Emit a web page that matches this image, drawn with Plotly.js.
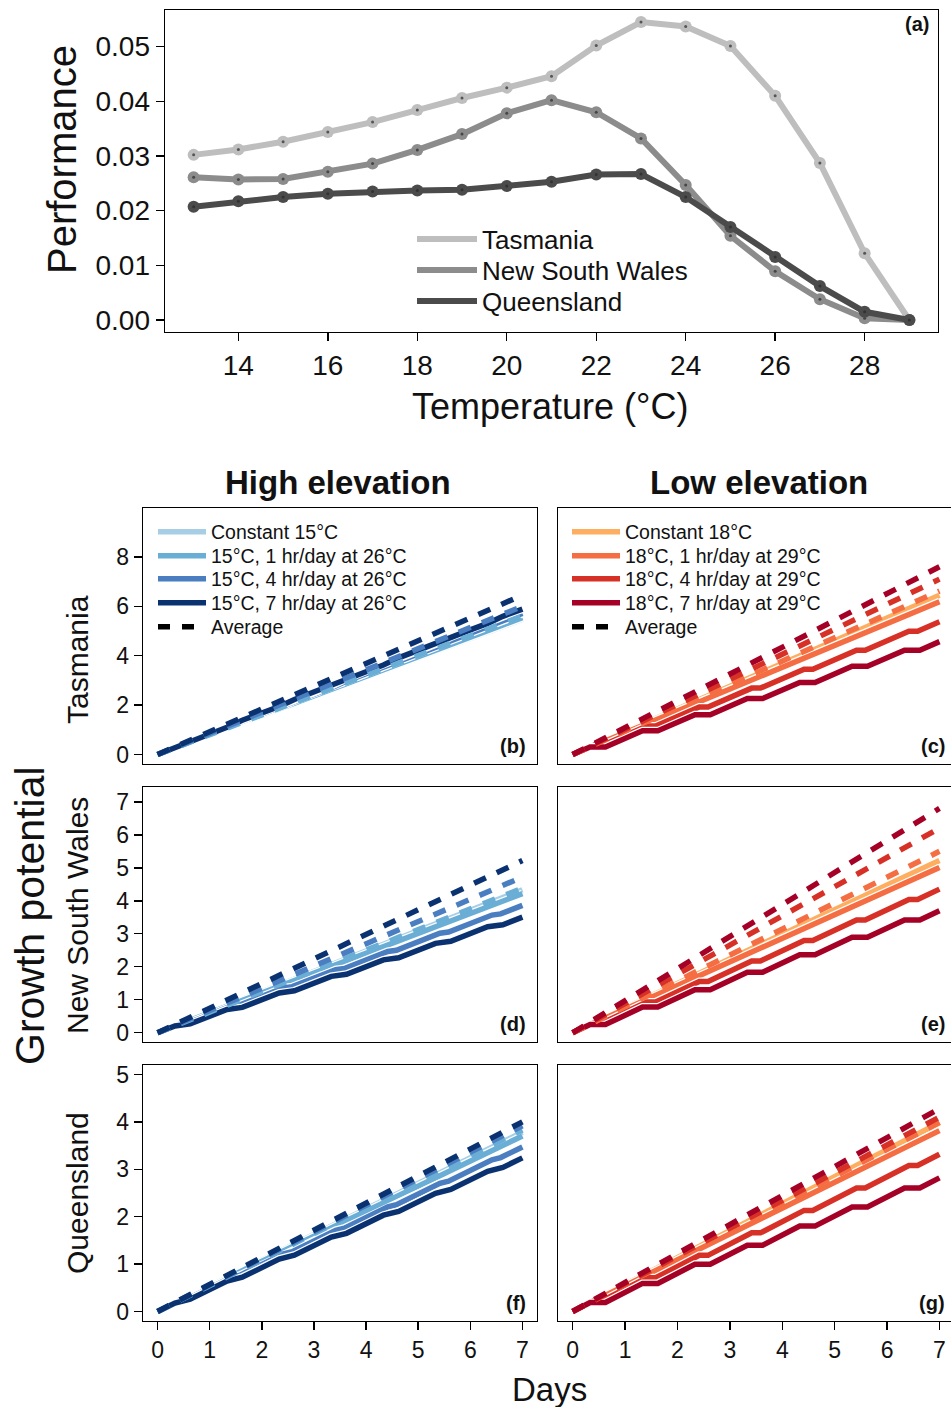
<!DOCTYPE html>
<html>
<head>
<meta charset="utf-8">
<script src="https://cdn.plot.ly/plotly-3.0.1.min.js"></script>
<style>html,body{margin:0;padding:0;background:#fff;}#chart{width:951px;height:1407px;}</style>
</head>
<body>
<div id="chart"></div>
<script>
// ---------- Panel (a): thermal performance curves ----------
const tempC = [13,14,15,16,17,18,19,20,21,22,23,24,25,26,27,28,29];
const perfTas = [0.0302,0.0312,0.0326,0.0344,0.0362,0.0384,0.0406,0.0425,0.0446,0.0502,0.0545,0.0537,0.0501,0.0410,0.0287,0.0122,0.0000];
const perfNSW = [0.0261,0.0257,0.0258,0.0271,0.0286,0.0311,0.0340,0.0378,0.0402,0.0380,0.0332,0.0247,0.0154,0.0089,0.0038,0.0003,0.0000];
const perfQld = [0.0207,0.0217,0.0225,0.0231,0.0235,0.0237,0.0238,0.0245,0.0253,0.0266,0.0267,0.0225,0.0170,0.0115,0.0062,0.0015,0.0000];
const regionNames = ['Tasmania','New South Wales','Queensland'];
const tempTicks = [14,16,18,20,22,24,26,28];
const perfTicks = [0,0.01,0.02,0.03,0.04,0.05];

// ---------- Panels (b)-(g): growth potential over days ----------
const dayDaily = [0,1,2,3,4,5,6,7];
const day4 = [0,0.417,0.583,1,1.417,1.583,2,2.417,2.583,3,3.417,3.583,4,4.417,4.583,5,5.417,5.583,6,6.417,6.583,7];
const day7 = [0,0.333,0.625,1,1.333,1.625,2,2.333,2.625,3,3.333,3.625,4,4.333,4.625,5,5.333,5.625,6,6.333,6.625,7];
const dayEnds = [0,7];
const dayTicks = [0,1,2,3,4,5,6,7];
const highNames = ['Constant 15°C','15°C, 1 hr/day at 26°C','15°C, 4 hr/day at 26°C','15°C, 7 hr/day at 26°C'];
const lowNames = ['Constant 18°C','18°C, 1 hr/day at 29°C','18°C, 4 hr/day at 29°C','18°C, 7 hr/day at 29°C'];
const averageName = 'Average';
const rowNames = ['Tasmania','New South Wales','Queensland'];
const colNames = ['High elevation','Low elevation'];

// (b) Tasmania, high elevation
const tasHighConst = [0,0.782,1.565,2.347,3.130,3.912,4.694,5.477];
const tasHigh1 = [0,0.791,1.582,2.372,3.163,3.954,4.745,5.536];
const tasHigh4 = [0,0.326,0.490,0.816,1.142,1.306,1.632,1.958,2.122,2.448,2.774,2.938,3.264,3.590,3.754,4.080,4.406,4.570,4.896,5.222,5.386,5.712];
const tasHigh7 = [0,0.261,0.548,0.841,1.102,1.389,1.682,1.943,2.230,2.524,2.785,3.071,3.365,3.626,3.913,4.206,4.467,4.754,5.047,5.308,5.595,5.888];
const tasHighAvg1 = [0,5.61];
const tasHighAvg4 = [0,6.00];
const tasHighAvg7 = [0,6.45];
// (c) Tasmania, low elevation
const tasLowConst = [0,0.922,1.843,2.765,3.686,4.608,5.530,6.451];
const tasLow1 = [0,0.883,1.766,2.650,3.533,4.416,5.299,6.182];
const tasLow4 = [0,0.384,0.384,0.768,1.152,1.152,1.536,1.920,1.920,2.304,2.688,2.688,3.072,3.456,3.456,3.840,4.224,4.224,4.608,4.992,4.992,5.376];
const tasLow7 = [0,0.307,0.307,0.653,0.960,0.960,1.306,1.613,1.613,1.958,2.266,2.266,2.611,2.918,2.918,3.264,3.571,3.571,3.917,4.224,4.224,4.570];
const tasLowAvg1 = [0,6.62];
const tasLowAvg4 = [0,7.10];
const tasLowAvg7 = [0,7.60];
// (d) New South Wales, high elevation
const nswHighConst = [0,0.619,1.238,1.858,2.477,3.096,3.715,4.334];
const nswHigh1 = [0,0.602,1.205,1.807,2.409,3.012,3.614,4.216];
const nswHigh4 = [0,0.258,0.294,0.552,0.810,0.845,1.103,1.361,1.397,1.655,1.913,1.948,2.206,2.464,2.500,2.758,3.016,3.052,3.310,3.568,3.603,3.861];
const nswHigh7 = [0,0.206,0.269,0.501,0.707,0.770,1.002,1.208,1.271,1.503,1.709,1.772,2.004,2.210,2.272,2.505,2.711,2.773,3.005,3.212,3.274,3.506];
const nswHighAvg1 = [0,4.38];
const nswHighAvg4 = [0,4.72];
const nswHighAvg7 = [0,5.22];
// (e) New South Wales, low elevation
const nswLowConst = [0,0.746,1.493,2.239,2.986,3.732,4.478,5.225];
const nswLow1 = [0,0.715,1.431,2.146,2.861,3.577,4.292,5.007];
const nswLow4 = [0,0.311,0.311,0.622,0.933,0.933,1.244,1.555,1.555,1.866,2.177,2.177,2.488,2.799,2.799,3.110,3.421,3.421,3.732,4.043,4.043,4.354];
const nswLow7 = [0,0.249,0.249,0.529,0.778,0.778,1.057,1.306,1.306,1.586,1.835,1.835,2.115,2.364,2.364,2.644,2.892,2.892,3.172,3.421,3.421,3.701];
const nswLowAvg1 = [0,5.50];
const nswLowAvg4 = [0,6.20];
const nswLowAvg7 = [0,6.80];
// (f) Queensland, high elevation
const qldHighConst = [0,0.540,1.080,1.620,2.160,2.700,3.240,3.780];
const qldHigh1 = [0,0.529,1.058,1.587,2.116,2.645,3.174,3.703];
const qldHigh4 = [0,0.225,0.271,0.496,0.721,0.767,0.992,1.217,1.263,1.488,1.713,1.759,1.984,2.209,2.255,2.480,2.705,2.751,2.976,3.201,3.247,3.472];
const qldHigh7 = [0,0.180,0.261,0.463,0.643,0.724,0.926,1.106,1.187,1.389,1.569,1.650,1.852,2.032,2.113,2.315,2.495,2.576,2.778,2.958,3.039,3.241];
const qldHighAvg1 = [0,3.83];
const qldHighAvg4 = [0,3.92];
const qldHighAvg7 = [0,4.00];
// (g) Queensland, low elevation
const qldLowConst = [0,0.569,1.138,1.706,2.275,2.844,3.413,3.982];
const qldLow1 = [0,0.545,1.090,1.635,2.180,2.726,3.271,3.816];
const qldLow4 = [0,0.237,0.237,0.474,0.711,0.711,0.948,1.185,1.185,1.422,1.659,1.659,1.896,2.133,2.133,2.370,2.607,2.607,2.844,3.081,3.081,3.318];
const qldLow7 = [0,0.190,0.190,0.403,0.593,0.593,0.806,0.996,0.996,1.209,1.399,1.399,1.612,1.802,1.802,2.015,2.204,2.204,2.417,2.607,2.607,2.820];
const qldLowAvg1 = [0,3.99];
const qldLowAvg4 = [0,4.10];
const qldLowAvg7 = [0,4.28];

// ---------- styling ----------
const W = 951, H = 1407;
const FONT = 'Liberation Sans, Arial, Helvetica, sans-serif';
const greyCols = ['#bebebe','#8c8c8c','#4b4b4b'];
const blueCols = ['#a6cfe6','#6aaed6','#4a7ec0','#0b3270'];
const redCols = ['#fdae61','#f46d43','#d73027','#a50026'];
const DASH = '13px,12px';
const px2x = p => p / W;
const px2y = p => 1 - p / H;

const layout = {
  width: W, height: H, margin: {l: 0, r: 0, t: 0, b: 0}, paper_bgcolor: '#fff', plot_bgcolor: '#fff',
  font: {family: FONT, color: '#111'}, annotations: [], showlegend: true
};

// one legend box per entry so each row sits where the reference puts it
let legCount = 2;
function makeLegend(xLeft, yMid, size, itemw) {
  legCount++;
  const id = 'legend' + legCount;
  layout[id] = {x: px2x(xLeft), y: px2y(yMid), xanchor: 'left', yanchor: 'middle', bgcolor: 'rgba(0,0,0,0)',
    borderwidth: 0, font: {family: FONT, size: size, color: '#111'}, itemwidth: itemw};
  return id;
}
const legA = [239, 270, 301].map(y => makeLegend(412, y, 26, 60));
const legB = [532, 556, 579, 603, 627].map(y => makeLegend(153, y, 19.5, 48));
const legC = [532, 556, 579, 603, 627].map(y => makeLegend(567, y, 19.5, 48));

const traces = [];

// panel (a)
[perfTas, perfNSW, perfQld].forEach((vals, i) => {
  traces.push({x: tempC, y: vals, xaxis: 'x', yaxis: 'y', mode: 'lines', name: regionNames[i],
    line: {color: greyCols[i], width: 6}, legend: legA[i], hoverinfo: 'skip'});
  traces.push({x: tempC, y: vals, xaxis: 'x', yaxis: 'y', mode: 'markers', showlegend: false,
    marker: {color: greyCols[i], size: 12, line: {width: 0}}, hoverinfo: 'skip'});
  traces.push({x: tempC, y: vals, xaxis: 'x', yaxis: 'y', mode: 'markers', showlegend: false,
    marker: {color: 'rgba(40,40,40,0.7)', size: 3}, hoverinfo: 'skip'});
});

function addPanel(xa, ya, solids, avgs, names, cols, legIds) {
  const xs = [dayDaily, dayDaily, day4, day7];
  solids.forEach((ys, i) => {
    traces.push({x: xs[i], y: ys, xaxis: xa, yaxis: ya, mode: 'lines', showlegend: false,
      line: {color: '#ffffff', width: 8}, hoverinfo: 'skip'});
    traces.push({x: xs[i], y: ys, xaxis: xa, yaxis: ya, mode: 'lines', name: names[i],
      showlegend: !!legIds, legend: legIds ? legIds[i] : 'legend',
      line: {color: cols[i], width: 5.5}, hoverinfo: 'skip'});
  });
  avgs.forEach((ys, i) => {
    traces.push({x: dayEnds, y: ys, xaxis: xa, yaxis: ya, mode: 'lines', showlegend: false,
      line: {color: cols[i + 1], width: 5.5, dash: DASH}, hoverinfo: 'skip'});
  });
  if (legIds) {
    traces.push({x: [null], y: [null], xaxis: xa, yaxis: ya, mode: 'lines', name: averageName,
      legend: legIds[4], line: {color: '#000', width: 5.5, dash: '12px,12px'}, hoverinfo: 'skip'});
  }
}

addPanel('x2','y2',[tasHighConst,tasHigh1,tasHigh4,tasHigh7],[tasHighAvg1,tasHighAvg4,tasHighAvg7],highNames,blueCols,legB);
addPanel('x3','y3',[tasLowConst,tasLow1,tasLow4,tasLow7],[tasLowAvg1,tasLowAvg4,tasLowAvg7],lowNames,redCols,legC);
addPanel('x4','y4',[nswHighConst,nswHigh1,nswHigh4,nswHigh7],[nswHighAvg1,nswHighAvg4,nswHighAvg7],highNames,blueCols,null);
addPanel('x5','y5',[nswLowConst,nswLow1,nswLow4,nswLow7],[nswLowAvg1,nswLowAvg4,nswLowAvg7],lowNames,redCols,null);
addPanel('x6','y6',[qldHighConst,qldHigh1,qldHigh4,qldHigh7],[qldHighAvg1,qldHighAvg4,qldHighAvg7],highNames,blueCols,null);
addPanel('x7','y7',[qldLowConst,qldLow1,qldLow4,qldLow7],[qldLowAvg1,qldLowAvg4,qldLowAvg7],lowNames,redCols,null);

// ---------- axes ----------
function ax(extra) {
  return Object.assign({showgrid: false, zeroline: false, showline: true, linecolor: '#000', linewidth: 1.4,
    ticks: 'outside', ticklen: 8, tickwidth: 1.4, tickcolor: '#000', mirror: true, fixedrange: true,
    tickfont: {family: FONT, size: 23, color: '#111'}}, extra);
}
const colX = [[143, 537], [558, 951]];
const rowY = [[508, 764], [787, 1042], [1065, 1321]];
const rowRange = [[-0.384, 9.98], [-0.28, 7.45], [-0.2, 5.2]];
const rowTicks = [[0,2,4,6,8], [0,1,2,3,4,5,6,7], [0,1,2,3,4,5]];
const rowLabelY = [660, 916, 1193];

layout.xaxis = ax({domain: [px2x(165), px2x(938)], range: [12.36, 29.64], anchor: 'y', tickmode: 'array', tickvals: tempTicks,
  tickfont: {family: FONT, size: 28, color: '#111'}});
layout.yaxis = ax({domain: [px2y(332), px2y(10)], range: [-0.0022, 0.0567], anchor: 'x', tickmode: 'array', tickvals: perfTicks,
  tickformat: '.2f', tickfont: {family: FONT, size: 28, color: '#111'}});

let n = 2;
for (let r = 0; r < 3; r++) {
  for (let c = 0; c < 2; c++) {
    layout['xaxis' + n] = ax({domain: [px2x(colX[c][0]), px2x(colX[c][1])], range: c === 0 ? [-0.28, 7.28] : [-0.28, 7.22],
      anchor: 'y' + n, tickmode: 'array', tickvals: dayTicks,
      showticklabels: r === 2, ticks: r === 2 ? 'outside' : ''});
    layout['yaxis' + n] = ax({domain: [px2y(rowY[r][1]), px2y(rowY[r][0])], range: rowRange[r], anchor: 'x' + n,
      tickmode: 'array', tickvals: rowTicks[r], showticklabels: c === 0, ticks: c === 0 ? 'outside' : '',
      mirror: c === 0});
    n++;
  }
}

function ann(text, x, y, size, extra) {
  return Object.assign({text: text, x: px2x(x), y: px2y(y), xref: 'paper', yref: 'paper', showarrow: false,
    xanchor: 'center', yanchor: 'middle', font: {family: FONT, size: size, color: '#111'}}, extra || {});
}
const A = layout.annotations;
A.push(ann('<b>(a)</b>', 931, 24, 20, {xanchor: 'right'}));
const tags = ['(b)','(c)','(d)','(e)','(f)','(g)'];
let k = 0;
for (let r = 0; r < 3; r++) for (let c = 0; c < 2; c++) {
  A.push(ann('<b>' + tags[k++] + '</b>', c === 0 ? 528 : 947, rowY[r][1] - 18, 20, {xanchor: 'right'}));
}
A.push(ann('Performance', 62, 160, 40, {textangle: -90}));
A.push(ann('Temperature (°C)', 550, 406, 36));
A.push(ann('<b>' + colNames[0] + '</b>', 338, 482, 33));
A.push(ann('<b>' + colNames[1] + '</b>', 759, 482, 33));
for (let r = 0; r < 3; r++) A.push(ann(rowNames[r], 77, rowLabelY[r], 30, {textangle: -90}));
A.push(ann('Growth potential', 30, 916, 41, {textangle: -90}));
A.push(ann('Days', 549, 1389, 33));

Plotly.newPlot('chart', traces, layout, {displayModeBar: false, staticPlot: true});
</script>
</body>
</html>
